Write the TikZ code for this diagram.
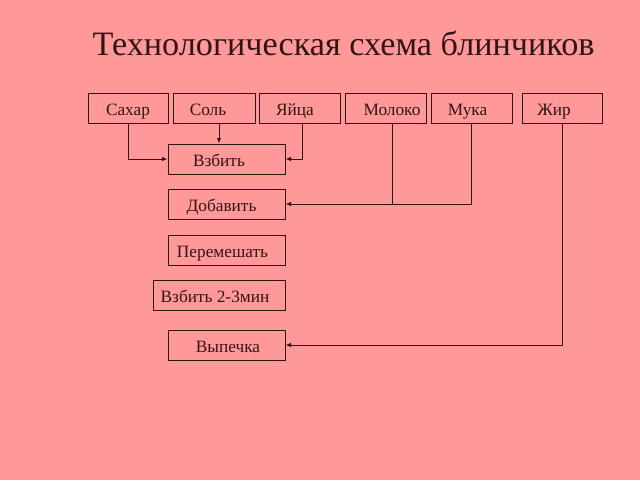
\documentclass[tikz,border=0pt]{standalone}
\usepackage{fontspec}
\setmainfont{Liberation Serif}
\usetikzlibrary{arrows.meta}
\definecolor{bgpink}{RGB}{255,153,153}
\definecolor{ink}{RGB}{50,20,20}
\newcommand\shiftedtext[2]{\makebox[0pt]{\hspace*{#1}#2}}
\tikzset{
  box/.style={draw=ink, line width=1pt, minimum height=30pt, inner sep=0pt, text height=16pt, text depth=2pt, font=\fontsize{17.3}{19}\selectfont, text=ink},
  arr/.style={draw=ink, line width=1pt, -{Latex[length=5.5pt,width=4.5pt]}},
  ln/.style={draw=ink, line width=1pt}
}
\begin{document}
\begin{tikzpicture}[x=1pt,y=-1pt]
\fill[bgpink] (0,0) rectangle (640,480);
\useasboundingbox (0,0) rectangle (640,480);
\node[text=ink, font=\fontsize{34.2}{40}\selectfont, anchor=base] (title) at (343.5,55) {Технологическая схема блинчиков};
% top row
\node[box, minimum width=80pt] (sahar) at (128,108.5) {Сахар};
\node[box, minimum width=82pt] (sol) at (214,108.5) {\shiftedtext{-12pt}{Соль}};
\node[box, minimum width=81pt] (yaytsa) at (299.5,108.5) {\shiftedtext{-9pt}{Яйца}};
\node[box, minimum width=81pt] (moloko) at (385.5,108.5) {\shiftedtext{13pt}{Молоко}};
\node[box, minimum width=81pt] (muka) at (471.5,108.5) {\shiftedtext{-8pt}{Мука}};
\node[box, minimum width=80pt] (zhir) at (562,108.5) {\shiftedtext{-16pt}{Жир}};
% column
\node[box, minimum width=117pt] (vzbit) at (226.5,159) {\shiftedtext{-15pt}{Взбить}};
\node[box, minimum width=117pt] (dobavit) at (226.5,204) {\shiftedtext{-10pt}{Добавить}};
\node[box, minimum width=117pt] (peremeshat) at (226.5,250) {\shiftedtext{-8pt}{Перемешать}};
\node[box, minimum width=132pt] (vzbit2) at (219,295) {\shiftedtext{-8pt}{Взбить 2-3мин}};
\node[box, minimum width=117pt] (vypechka) at (226.5,345) {\shiftedtext{3pt}{Выпечка}};
% connectors
\draw[arr] (sahar.south) |- (vzbit.west);
\draw[arr] ([xshift=5pt]sol.south) -- ([xshift=5pt]sol.south |- vzbit.north);
\draw[arr] ([xshift=2.5pt]yaytsa.south) |- (vzbit.east);
\draw[ln] ([xshift=6.5pt]moloko.south) -- ([xshift=6.5pt]moloko.south |- dobavit.east);
\draw[arr] (muka.south) |- (dobavit.east);
\draw[arr] (zhir.south) |- (vypechka.east);
\end{tikzpicture}
\end{document}
